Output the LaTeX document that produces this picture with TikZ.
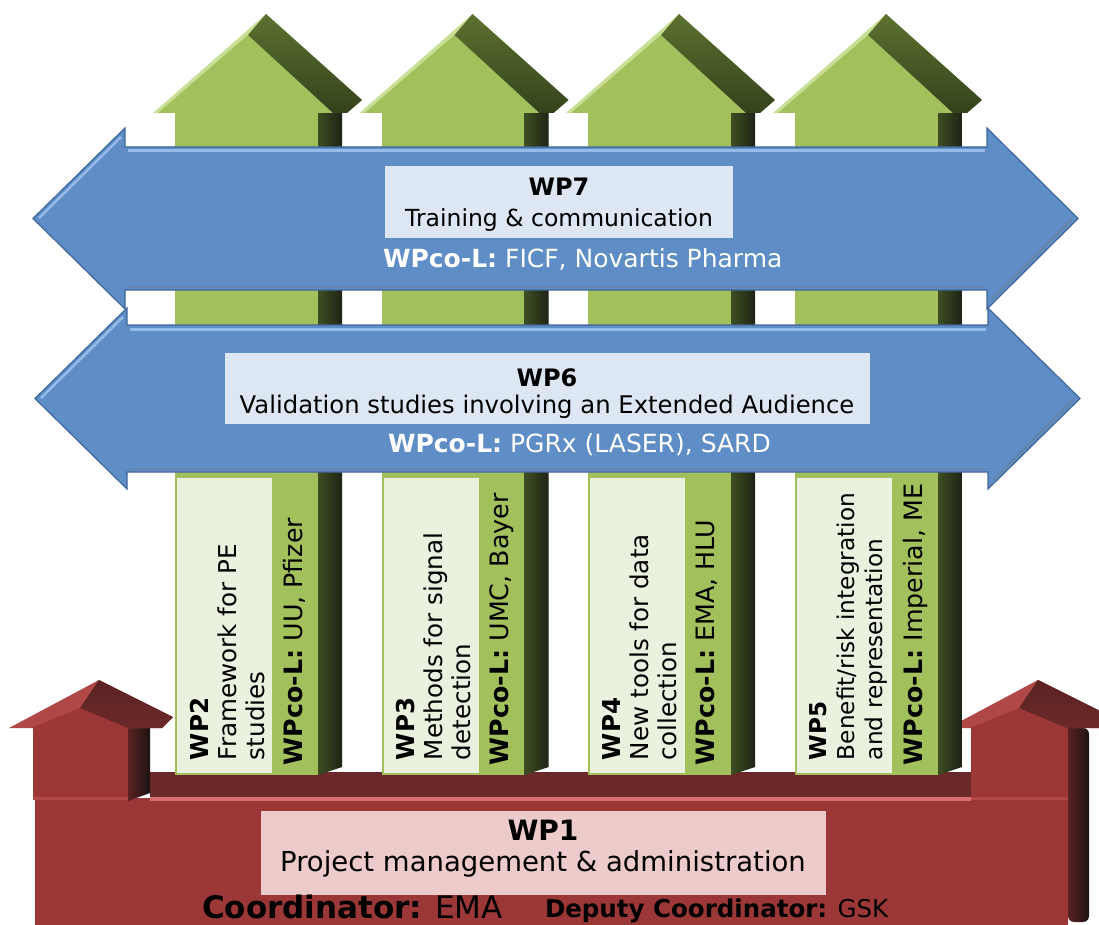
\documentclass[tikz,border=0pt]{standalone}
\usepackage{fontspec}
\setmainfont{DejaVu Sans}
\definecolor{gL}{HTML}{A2C05C}
\definecolor{gEdge}{HTML}{C9DF96}
\definecolor{gD}{HTML}{1E2315}
\definecolor{gDm}{HTML}{3E4E22}
\definecolor{gBandA}{HTML}{5B7130}
\definecolor{gBandB}{HTML}{34421C}
\definecolor{gBox}{HTML}{EBF1DF}
\definecolor{bF}{HTML}{5F8DC6}
\definecolor{bHi}{HTML}{95BBE8}
\definecolor{bLo}{HTML}{3F6799}
\definecolor{bBox}{HTML}{DDE7F3}
\definecolor{rF}{HTML}{9C3737}
\definecolor{rTop}{HTML}{6C2929}
\definecolor{rHi}{HTML}{D86E6E}
\definecolor{rD}{HTML}{1E1313}
\definecolor{rDm}{HTML}{5A2222}
\definecolor{rEdge}{HTML}{B04848}
\definecolor{rBox}{HTML}{ECCBCA}
\tikzset{
  txt/.style={inner sep=0pt, outer sep=0pt},
  vtxt/.style={txt, rotate=90, anchor=north west, align=left, font=\fontsize{24.6}{28}\selectfont},
  vco/.style={txt, rotate=90, anchor=north west, font=\fontsize{25.3}{28}\selectfont},
  bluearrow/.style={fill=bF, draw=bLo, line width=1.2pt, line join=miter},
}
\begin{document}
\begin{tikzpicture}[x=1pt,y=-1pt]
\useasboundingbox (0,0) rectangle (1099,925);
\clip (0,0) rectangle (1099,925);

% ---------- red base (WP1) ----------
\fill[rF] (35,798) rectangle (1068,925);
\fill[rTop] (150,772) rectangle (971,798);
\fill[rHi] (150,797) rectangle (971,801);
\shade[left color=rDm, right color=rD, rounded corners=6pt] (1068,728) -- (1089,728) -- (1089,922) -- (1068,922) [sharp corners] -- cycle;
% left house
\fill[rF] (33,728) rectangle (128,800);
\fill[rEdge] (33,797) rectangle (128,800);
\shade[left color=rDm, right color=rD] (128,728) -- (150,728) -- (150,793) -- (128,801) -- cycle;
\fill[rEdge] (9,728) -- (99,680) -- (173,717) -- (162,728) -- cycle;
\fill[rF] (31,728) -- (80,708) -- (128,728) -- cycle;
\shade[top color=rDm, bottom color=rTop] (80,708) -- (99,680) -- (173,717) -- (162,728) -- (128,728) -- cycle;
% right house
\fill[rF] (971,728) rectangle (1068,800);
\fill[rEdge] (971,797) rectangle (1068,800);
\begin{scope}[shift={(939,0)}]
\fill[rEdge] (9,728) -- (99,680) -- (173,717) -- (162,728) -- cycle;
\fill[rF] (31,728) -- (80,708) -- (128,728) -- cycle;
\shade[top color=rDm, bottom color=rTop] (80,708) -- (99,680) -- (173,717) -- (162,728) -- (128,728) -- cycle;
\end{scope}

% ---------- green columns ----------
\foreach \d in {0,206.5,413,620} {
\begin{scope}[shift={(\d,0)}]
  \fill[gL] (175,113) rectangle (318,775);
  \shade[left color=gDm, right color=gD] (318,113) -- (342,113) -- (342,767) -- (318,775) -- cycle;
  \fill[gEdge] (153,113) -- (266,14) -- (362,100) -- (347,113) -- cycle;
  \fill[gL] (158,113) -- (248,35) -- (333,113) -- cycle;
  \shade[top color=gBandA, bottom color=gBandB] (248,35) -- (266,14) -- (362,100) -- (347,113) -- (333,113) -- cycle;
  \fill[gBox] (177,478) rectangle (272,773);
\end{scope}
}

% vertical texts
\node[vtxt] (wp2t) at (190,760) {\textbf{WP2}\\Framework for PE\\studies};
\node[vco]  (wp2c) at (283,765) {\textbf{WPco-L:} UU, Pfizer};
\node[vtxt] (wp3t) at (396.5,760) {\textbf{WP3}\\Methods for signal\\detection};
\node[vco]  (wp3c) at (489.5,765) {\textbf{WPco-L:} UMC, Bayer};
\node[vtxt] (wp4t) at (603,760) {\textbf{WP4}\\New tools for data\\collection};
\node[vco]  (wp4c) at (696,765) {\textbf{WPco-L:} EMA, HLU};
\node[vtxt, font=\fontsize{23.2}{28}\selectfont] (wp5t) at (810,760) {\textbf{WP5}\\Benefit/risk integration\\and representation};
\node[vco]  (wp5c) at (903,765) {\textbf{WPco-L:} Imperial, ME};

% ---------- blue arrows ----------
\path[bluearrow] (33,218.5) -- (125,128) -- (125,147) -- (987,147) -- (987,128) -- (1078,218.5) -- (987,309) -- (987,290) -- (125,290) -- (125,309) -- cycle;
\draw[bHi, line width=3pt] (128,151) -- (985,151);
\draw[bHi, line width=2.5pt] (39,218) -- (121,137);
\draw[bLo!80, line width=2.5pt] (128,287) -- (985,287);
\draw[bLo!80, line width=2.5pt] (1072,219) -- (991,300);

\path[bluearrow] (35,398.5) -- (127,308) -- (127,325) -- (988,325) -- (988,308) -- (1080,398.5) -- (988,489) -- (988,472) -- (127,472) -- (127,489) -- cycle;
\draw[bHi, line width=3pt] (130,329) -- (986,329);
\draw[bHi, line width=2.5pt] (41,398) -- (123,317);
\draw[bLo!80, line width=2.5pt] (130,469) -- (986,469);
\draw[bLo!80, line width=2.5pt] (1074,399) -- (993,480);

% ---------- text boxes ----------
\fill[bBox] (385,166) rectangle (733,238);
\fill[bBox] (225,353) rectangle (870,424);
\fill[rBox] (261,811) rectangle (826,895);

\node[txt, anchor=base, font=\bfseries\fontsize{24}{28}\selectfont] (wp7h) at (559,196) {WP7};
\node[txt, anchor=base, font=\fontsize{23.5}{28}\selectfont] (wp7d) at (559,227) {Training \& communication};
\node[txt, anchor=base west, text=white, font=\fontsize{25}{28}\selectfont] (wp7c) at (383,267) {\textbf{WPco-L:} FICF, Novartis Pharma};

\node[txt, anchor=base, font=\bfseries\fontsize{24}{28}\selectfont] (wp6h) at (547,386) {WP6};
\node[txt, anchor=base, font=\fontsize{24.3}{28}\selectfont] (wp6d) at (547,413) {Validation studies involving an Extended Audience};
\node[txt, anchor=base west, text=white, font=\fontsize{25}{28}\selectfont] (wp6c) at (388,452) {\textbf{WPco-L:} PGRx (LASER), SARD};

\node[txt, anchor=base, font=\bfseries\fontsize{28}{32}\selectfont] (wp1h) at (543,840) {WP1};
\node[txt, anchor=base, font=\fontsize{27.5}{32}\selectfont] (wp1d) at (543,871) {Project management \& administration};

\node[txt, anchor=base west, font=\fontsize{31}{34}\selectfont] (coord) at (202,918) {\textbf{Coordinator:} EMA};
\node[txt, anchor=base west, font=\fontsize{24.5}{28}\selectfont] (dcoord) at (545,917) {\textbf{Deputy Coordinator:} GSK};
\end{tikzpicture}
\end{document}
